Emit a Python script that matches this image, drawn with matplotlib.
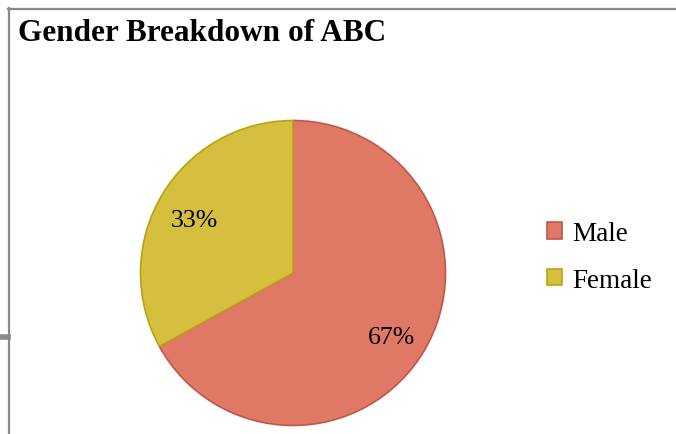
import matplotlib.pyplot as plt
from matplotlib.lines import Line2D
from matplotlib.patches import Patch

# data
labels = ["Male", "Female"]
shares = [67, 33]
colors = ["#E07866", "#D6BF3F"]
edges = ["#C0584A", "#B8A314"]

W, H = 676, 435
fig = plt.figure(figsize=(W / 100, H / 100), dpi=100)
fig.patch.set_facecolor("white")
serif = ["Liberation Serif", "DejaVu Serif"]

# chart frame (left + top borders, gray)
fig.add_artist(Line2D([8.5 / W, 8.5 / W], [0, 1 - 9 / H], color="#8a8a8a", lw=1.6))
fig.add_artist(Line2D([8 / W, 1], [1 - 9.5 / H, 1 - 9.5 / H], color="#8a8a8a", lw=1.6))
fig.add_artist(Line2D([0, 8 / W], [1 - 337.5 / H, 1 - 337.5 / H], color="#8a8a8a", lw=4))

fig.text(18 / W, 1 - 41 / H, "Gender Breakdown of ABC", fontsize=22.5,
         fontweight="bold", family=serif, ha="left", va="baseline")

cx, cy, r = 293, 274, 154
ax = fig.add_axes([(cx - r) / W, (H - cy - r) / H, 2 * r / W, 2 * r / H])
wedges, texts, autotexts = ax.pie(
    shares, colors=colors, startangle=90, counterclock=False,
    autopct="%d%%", pctdistance=0.75,
    wedgeprops=dict(linewidth=1.2),
    textprops=dict(fontsize=18.5, family=serif, color="black"),
)
for w, e in zip(wedges, edges):
    w.set_edgecolor(e)
for t in autotexts:
    x, y = t.get_position()
    t.set_position((x, y - 0.035))
ax.set_xlim(-1.01, 1.01)
ax.set_ylim(-1.01, 1.01)
ax.axis("off")

handles = [Patch(facecolor=c, edgecolor=e, linewidth=1.2, label=l)
           for c, e, l in zip(colors, edges, labels)]
fig.legend(handles=handles, loc="center left", bbox_to_anchor=(547 / W, 1 - 258 / H),
           frameon=False, prop=dict(family=serif, size=19.5), borderpad=0,
           borderaxespad=0, handlelength=0.55, handleheight=0.55,
           handletextpad=0.4, labelspacing=0.8)

fig.savefig("out.png", dpi=100)
